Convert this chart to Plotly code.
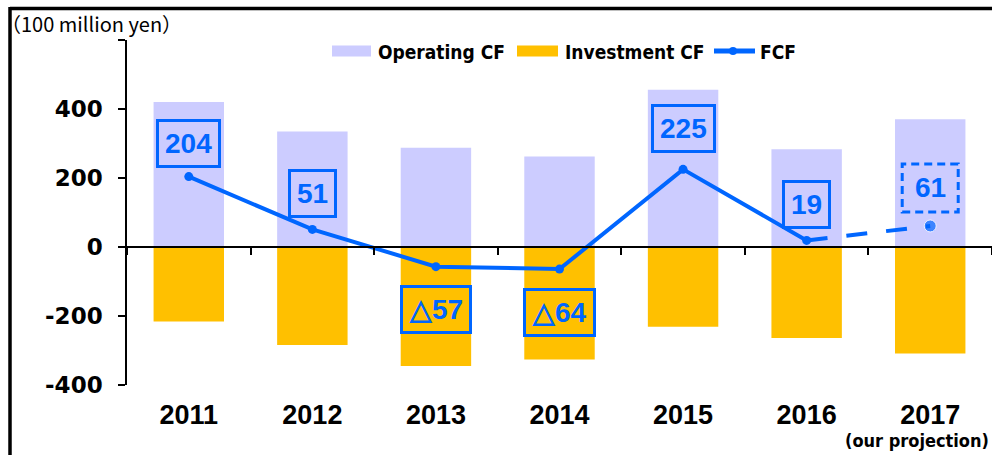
import plotly.graph_objects as go

# ---------------- data ----------------
years = ["2011", "2012", "2013", "2014", "2015", "2016", "2017"]
operating_cf = [420, 335, 288, 262, 456, 283, 370]
investment_cf = [-216, -284, -345, -326, -231, -264, -309]
fcf = [204, 51, -57, -64, 225, 19, 61]
ytick_vals = [-400, -200, 0, 200, 400, 600]
ytick_text = ["-400", "-200", "0", "200", "400", ""]
unit_label = "（100 million yen）"
projection_note = "(our projection)"

# ---------------- style ----------------
W, H = 992, 455
ML, MR, MT, MB = 127, 0, 40, 70
PW, PH = W - ML - MR, H - MT - MB
YMIN, YMAX = -400, 600
LAV = "#CCCCFF"
GOLD = "#FFC000"
BLUE = "#0066FF"
NUM_FONT = "Liberation Sans, Arial, sans-serif"
YTICK_FONT = "DejaVu Sans, sans-serif"
NARROW_FONT = "DejaVu Sans, sans-serif"
JP_FONT = "Noto Sans CJK JP, sans-serif"
LABEL_SHIFT = [33, 36, -43, -43, 41, 36, 38]  # pixel offsets of the boxed labels


def px_x(px):
    return (px - ML) / PW


def px_y(py):
    return (H - MB - py) / PH


def narrow(s):
    return '<span style="font-stretch:condensed;font-weight:bold">' + s + "</span>"


ppu = PH / (YMAX - YMIN)  # pixels per data unit

fig = go.Figure()
fig.add_trace(go.Bar(x=years, y=operating_cf, name="Operating CF",
                     marker=dict(color=LAV, line=dict(width=0)), width=0.57))
fig.add_trace(go.Bar(x=years, y=investment_cf, name="Investment CF",
                     marker=dict(color=GOLD, line=dict(width=0)), width=0.57))
# solid part (actuals)
fig.add_trace(go.Scatter(x=years[:6], y=fcf[:6], name="FCF", mode="lines+markers",
                         line=dict(color=BLUE, width=4),
                         marker=dict(color=BLUE, size=9)))
# dashed projection part
fig.add_trace(go.Scatter(x=years[5:], y=fcf[5:], name="FCF proj", mode="lines+markers",
                         line=dict(color=BLUE, width=4, dash="21px,19px"),
                         marker=dict(color=BLUE, size=[0, 12])))
# invisible trace on x2 so the zero axis is drawn
fig.add_trace(go.Scatter(x=years, y=[0] * len(years), xaxis="x2", mode="markers",
                         marker=dict(opacity=0), hoverinfo="skip", showlegend=False))

annotations = []
shapes = []

# data labels
for i, v in enumerate(fcf):
    txt = str(v) if v >= 0 else "△" + str(abs(v))
    shift = LABEL_SHIFT[i]
    proj = (i == len(years) - 1)
    annotations.append(dict(
        x=i, y=v, xref="x", yref="y", text="<b>" + txt + "</b>", showarrow=False, yshift=shift,
        font=dict(family=NUM_FONT, size=28, color=BLUE),
        bordercolor=BLUE if not proj else "rgba(0,0,0,0)", borderwidth=3, borderpad=6,
    ))
    if proj:
        cy = v + shift / ppu
        hw = 28 / (PW / len(years))
        hh = 24 / ppu
        shapes.append(dict(type="rect", xref="x", yref="y",
                           x0=i - hw, x1=i + hw, y0=cy - hh, y1=cy + hh,
                           line=dict(color=BLUE, width=3, dash="8px,5px")))

# frame border lines
shapes.append(dict(type="line", xref="paper", yref="paper",
                   x0=px_x(10), x1=px_x(W + 5), y0=px_y(8.5), y1=px_y(8.5),
                   line=dict(color="black", width=3.5)))
shapes.append(dict(type="line", xref="paper", yref="paper",
                   x0=px_x(10), x1=px_x(10), y0=px_y(7), y1=px_y(H + 5),
                   line=dict(color="black", width=3.5)))

# custom legend
leg_y = px_y(51)
shapes.append(dict(type="rect", xref="paper", yref="paper",
                   x0=px_x(332), x1=px_x(371), y0=px_y(56.5), y1=px_y(45.5),
                   fillcolor=LAV, line=dict(width=0)))
shapes.append(dict(type="rect", xref="paper", yref="paper",
                   x0=px_x(517), x1=px_x(558), y0=px_y(56.5), y1=px_y(45.5),
                   fillcolor=GOLD, line=dict(width=0)))
shapes.append(dict(type="line", xref="paper", yref="paper",
                   x0=px_x(714), x1=px_x(755), y0=leg_y, y1=leg_y,
                   line=dict(color=BLUE, width=5)))
shapes.append(dict(type="circle", xref="paper", yref="paper",
                   x0=px_x(729), x1=px_x(737), y0=px_y(47), y1=px_y(55),
                   fillcolor=BLUE, line=dict(width=0)))
for name, xpx in [("Operating CF", 376), ("Investment CF", 563), ("FCF", 758)]:
    annotations.append(dict(x=px_x(xpx), y=px_y(52), xref="paper", yref="paper",
                            text=narrow(name), showarrow=False,
                            xanchor="left", yanchor="middle",
                            font=dict(family=NARROW_FONT, size=19, color="black")))

# unit label
annotations.append(dict(x=px_x(-1), y=px_y(24), xref="paper", yref="paper",
                        text=unit_label, showarrow=False, xanchor="left", yanchor="middle",
                        font=dict(family=JP_FONT, size=20, color="black")))
# projection note
annotations.append(dict(x=px_x(991), y=px_y(440), xref="paper", yref="paper",
                        text=narrow(projection_note), showarrow=False,
                        xanchor="right", yanchor="middle",
                        font=dict(family=NARROW_FONT, size=18, color="black")))

fig.update_layout(
    width=W, height=H,
    margin=dict(l=ML, r=MR, t=MT, b=MB, pad=0, autoexpand=False),
    paper_bgcolor="white", plot_bgcolor="white",
    barmode="relative", bargap=0.43,
    showlegend=False,
    xaxis=dict(type="category", categoryorder="array", categoryarray=years,
               range=[-0.5, 6.5], showline=False, ticks="", showgrid=False, zeroline=False,
               automargin=False,
               tickfont=dict(family=NUM_FONT, size=27, color="black", weight="bold"),
               ticklabelstandoff=11),
    xaxis2=dict(type="category", categoryorder="array", categoryarray=years,
                overlaying="x", anchor="free", position=(0 - YMIN) / (YMAX - YMIN),
                range=[-0.5, 6.5], matches="x", automargin=False,
                showline=True, linecolor="black", linewidth=2,
                ticks="outside", tickson="boundaries", ticklen=7, tickwidth=1.5, tickcolor="black",
                showticklabels=False, showgrid=False, zeroline=False),
    yaxis=dict(range=[YMIN, YMAX], tickvals=ytick_vals, ticktext=ytick_text,
               showline=True, linecolor="black", linewidth=1.5, automargin=False,
               ticks="outside", ticklen=7, tickwidth=1.5, tickcolor="black",
               showgrid=False, zeroline=False,
               tickfont=dict(family=YTICK_FONT, size=23, color="black", weight="bold"),
               ticklabelstandoff=11),
    annotations=annotations,
    shapes=shapes,
)

fig.write_html("out.html",
               config={"displayModeBar": False},
               post_script="document.body.style.margin='0';document.body.style.padding='0';"
                           "document.body.style.overflow='hidden';")
